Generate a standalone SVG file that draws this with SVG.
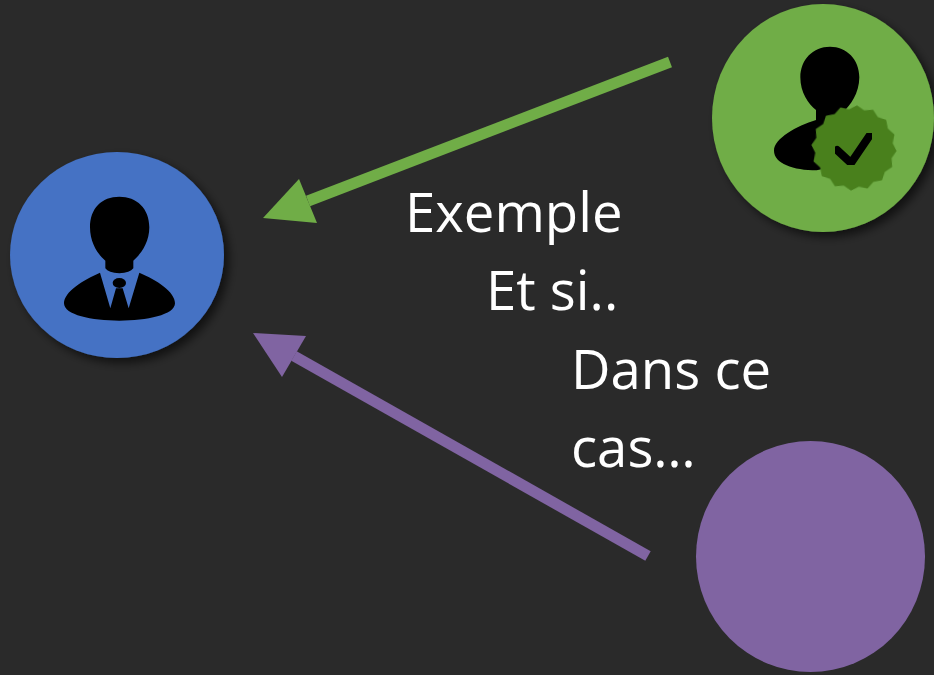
<svg xmlns="http://www.w3.org/2000/svg" width="934" height="675" viewBox="0 0 934 675">
<defs>
<filter id="shadow" x="-20%" y="-20%" width="140%" height="140%"><feDropShadow dx="5" dy="5" stdDeviation="5" flood-color="#000" flood-opacity="0.6"/></filter>
<filter id="soft" x="-5%" y="-5%" width="110%" height="110%"><feGaussianBlur stdDeviation="0.6"/></filter>
</defs>
<style>
text{font-family:"Open Sans","Liberation Sans",sans-serif;font-size:54.5px;fill:#fff}
.icon{fill:#000;filter:url(#soft)}
</style>
<rect width="934" height="675" fill="#2a2a2a"/>
<g id="connectors">
<line x1="670" y1="62" x2="308" y2="201" stroke="#70ad47" stroke-width="11"/>
<polygon points="263,218 299,179 317,223" fill="#70ad47"/>
<line x1="648" y1="556" x2="294" y2="356" stroke="#8064a2" stroke-width="11"/>
<polygon points="253,333 306,336 282,377" fill="#8064a2"/>
</g>
<g id="node-blue">
<ellipse cx="117" cy="255" rx="107" ry="103" fill="#4472c4" filter="url(#shadow)"/>
<g class="icon" transform="translate(0 140) scale(0.33333)">
<path d="M358 170C410 170 448 205 448 262C448 310 420 345 400 362L400 385Q390 398 358 400Q325 398 316 385L316 362C295 345 270 310 270 262C270 205 305 170 358 170Z"/>
<path d="M300 398L331 505L348 445L368 445L386 505L418 398C470 420 525 455 525 490C525 525 440 542 358 542C275 542 192 525 192 490C192 455 250 420 300 398Z"/>
<ellipse cx="358" cy="429" rx="20" ry="15"/>
</g>
</g>
<g id="node-green">
<ellipse cx="823" cy="118" rx="111" ry="114" fill="#70ad47" filter="url(#shadow)"/>
<g class="icon" transform="translate(700 0) scale(0.33333)">
<path d="M390 140C440 140 478 178 478 232C478 280 450 318 430 335L430 370L400 500L350 511C280 511 222 490 222 452C222 415 290 378 348 360L348 330C325 312 301 278 301 232C301 178 340 140 390 140Z"/>
</g>
<g transform="translate(854 148) rotate(4) scale(0.33333)" filter="url(#soft)">
<polygon fill="#48801f" points="128,0 114.8,22.8 118.3,49 97.3,65 90.5,90.5 65,97.3 49,118.3 22.8,114.8 0,128 -22.8,114.8 -49,118.3 -65,97.3 -90.5,90.5 -97.3,65 -118.3,49 -114.8,22.8 -128,0 -114.8,-22.8 -118.3,-49 -97.3,-65 -90.5,-90.5 -65,-97.3 -49,-118.3 -22.8,-114.8 0,-128 22.8,-114.8 49,-118.3 65,-97.3 90.5,-90.5 97.3,-65 118.3,-49 114.8,-22.8"/>
</g>
<polyline points="837,150 851,163 870,135" fill="none" stroke="#000" stroke-width="8" stroke-linejoin="round" stroke-linecap="round" filter="url(#soft)"/>
</g>
<g id="node-purple">
<ellipse cx="810.500" cy="556.500" rx="114.500" ry="115.500" fill="#8064a2"/>
</g>
<g id="labels">
<text x="405" y="232">Exemple</text>
<text x="486" y="310">Et si..</text>
<text x="571" y="389">Dans ce</text>
<text x="571" y="467">cas…</text>
</g>
</svg>
